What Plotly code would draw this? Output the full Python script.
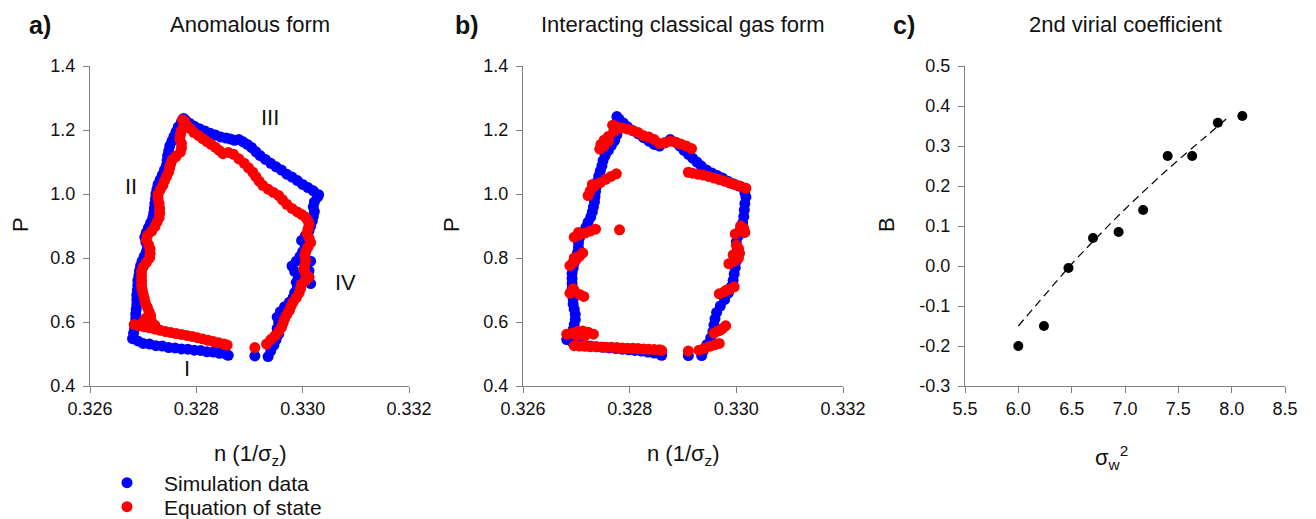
import plotly.graph_objects as go

# ---------------- panel a: anomalous form ----------------
# simulation data, traced around the cycle (I -> IV -> III -> II)
a_sim_n_I = [0.32680, 0.32690, 0.32700, 0.32712, 0.32724, 0.32736, 0.32748, 0.32760, 0.32772,
             0.32784, 0.32796, 0.32808, 0.32820, 0.32832, 0.32844, 0.32856, 0.32860]
a_sim_p_I = [0.548, 0.541, 0.533, 0.531, 0.526, 0.525, 0.520, 0.519, 0.516,
             0.515, 0.512, 0.511, 0.507, 0.506, 0.502, 0.500, 0.496]
a_sim_n_IV = [0.32910, 0.32935, 0.32940, 0.32946, 0.32950, 0.32955, 0.32952, 0.32955, 0.32952, 0.32958,
              0.32966, 0.32975, 0.32982, 0.32985, 0.32990, 0.32988, 0.32992, 0.32985, 0.32980, 0.32988,
              0.32995, 0.33000, 0.33005, 0.32998, 0.33005, 0.33012, 0.33015, 0.33018, 0.33020, 0.33022,
              0.33020, 0.33022, 0.33028, 0.33030, 0.33015, 0.33012, 0.33015]
a_sim_p_IV = [0.494, 0.492, 0.510, 0.528, 0.545, 0.562, 0.580, 0.598, 0.615, 0.632,
              0.648, 0.662, 0.676, 0.692, 0.708, 0.724, 0.740, 0.758, 0.775, 0.790,
              0.805, 0.820, 0.838, 0.855, 0.870, 0.885, 0.900, 0.915, 0.930, 0.945,
              0.960, 0.975, 0.990, 0.998, 0.790, 0.760, 0.720]
a_sim_n_III = [0.33020, 0.33010, 0.33000, 0.32990, 0.32980, 0.32970, 0.32960, 0.32950, 0.32940, 0.32930,
               0.32920, 0.32912, 0.32904, 0.32896, 0.32888, 0.32880, 0.32872, 0.32864, 0.32856, 0.32846,
               0.32836, 0.32826, 0.32816, 0.32806, 0.32796, 0.32788, 0.32780, 0.32776]
a_sim_p_III = [1.010, 1.020, 1.030, 1.042, 1.053, 1.062, 1.075, 1.085, 1.096, 1.108,
               1.120, 1.132, 1.145, 1.155, 1.163, 1.170, 1.168, 1.172, 1.175, 1.178,
               1.184, 1.190, 1.197, 1.204, 1.212, 1.220, 1.230, 1.236]
a_sim_n_II = [0.32772, 0.32766, 0.32762, 0.32758, 0.32754, 0.32750, 0.32748, 0.32746, 0.32745, 0.32744,
              0.32740, 0.32736, 0.32732, 0.32728, 0.32726, 0.32724, 0.32723, 0.32722, 0.32721, 0.32720,
              0.32718, 0.32714, 0.32710, 0.32706, 0.32703, 0.32705, 0.32708, 0.32706, 0.32702, 0.32698,
              0.32695, 0.32693, 0.32692, 0.32690, 0.32690, 0.32689, 0.32688, 0.32688, 0.32688, 0.32687,
              0.32686, 0.32686, 0.32685, 0.32684, 0.32682]
a_sim_p_II = [1.225, 1.210, 1.195, 1.180, 1.165, 1.150, 1.135, 1.120, 1.105, 1.090,
              1.075, 1.060, 1.045, 1.030, 1.015, 1.000, 0.985, 0.970, 0.955, 0.940,
              0.925, 0.910, 0.895, 0.880, 0.865, 0.850, 0.835, 0.820, 0.805, 0.790,
              0.775, 0.760, 0.745, 0.730, 0.715, 0.700, 0.685, 0.670, 0.655, 0.640,
              0.625, 0.610, 0.595, 0.580, 0.565]

# equation of state
a_eos_n_I = [0.32683, 0.32692, 0.32702, 0.32712, 0.32722, 0.32732, 0.32742, 0.32752, 0.32762, 0.32772,
             0.32782, 0.32792, 0.32802, 0.32812, 0.32822, 0.32832, 0.32842, 0.32852, 0.32858,
             0.32700, 0.32712, 0.32722, 0.32705, 0.32715, 0.32910]
a_eos_p_I = [0.592, 0.588, 0.585, 0.582, 0.578, 0.574, 0.570, 0.567, 0.564, 0.561,
             0.558, 0.555, 0.551, 0.547, 0.543, 0.539, 0.535, 0.531, 0.528,
             0.600, 0.595, 0.590, 0.612, 0.605, 0.520]
a_eos_n_IV = [0.32932, 0.32940, 0.32948, 0.32955, 0.32960, 0.32963, 0.32966, 0.32970, 0.32975, 0.32978,
              0.32982, 0.32988, 0.32993, 0.32996, 0.32998, 0.33005, 0.33012, 0.33005, 0.33002, 0.33004,
              0.33006, 0.33004, 0.33006, 0.33010, 0.33015, 0.33012, 0.33008, 0.33010, 0.33012, 0.33010]
a_eos_p_IV = [0.531, 0.545, 0.557, 0.570, 0.583, 0.596, 0.610, 0.623, 0.636, 0.649,
              0.662, 0.676, 0.690, 0.704, 0.718, 0.730, 0.740, 0.752, 0.765, 0.778,
              0.792, 0.806, 0.820, 0.834, 0.848, 0.862, 0.876, 0.890, 0.904, 0.916]
a_eos_n_III = [0.33005, 0.32998, 0.32990, 0.32980, 0.32970, 0.32962, 0.32955, 0.32945, 0.32935, 0.32925,
               0.32918, 0.32912, 0.32906, 0.32898, 0.32890, 0.32880, 0.32870, 0.32860, 0.32850, 0.32843,
               0.32836, 0.32828, 0.32820, 0.32812, 0.32804, 0.32795, 0.32788, 0.32782, 0.32778, 0.32774]
a_eos_p_III = [0.928, 0.936, 0.944, 0.955, 0.968, 0.982, 0.995, 1.005, 1.015, 1.027,
               1.040, 1.054, 1.068, 1.082, 1.096, 1.110, 1.124, 1.130, 1.126, 1.136,
               1.146, 1.155, 1.164, 1.173, 1.183, 1.193, 1.205, 1.215, 1.226, 1.232]
a_eos_n_II = [0.32776, 0.32772, 0.32770, 0.32769, 0.32772, 0.32772, 0.32770, 0.32762, 0.32755, 0.32752,
              0.32750, 0.32748, 0.32744, 0.32740, 0.32737, 0.32732, 0.32728, 0.32728, 0.32730, 0.32731,
              0.32731, 0.32730, 0.32726, 0.32722, 0.32716, 0.32708, 0.32706, 0.32710, 0.32713, 0.32713,
              0.32712, 0.32706, 0.32700, 0.32697, 0.32697, 0.32697, 0.32697, 0.32698, 0.32700, 0.32702,
              0.32704, 0.32708, 0.32711, 0.32714, 0.32706]
a_eos_p_II = [1.212, 1.198, 1.185, 1.172, 1.158, 1.144, 1.131, 1.118, 1.108, 1.095,
              1.082, 1.069, 1.055, 1.041, 1.027, 1.013, 0.999, 0.985, 0.970, 0.955,
              0.940, 0.926, 0.912, 0.898, 0.884, 0.870, 0.856, 0.842, 0.828, 0.814,
              0.800, 0.786, 0.772, 0.758, 0.744, 0.730, 0.716, 0.702, 0.688, 0.674,
              0.660, 0.646, 0.632, 0.620, 0.608]

# ---------------- panel b: interacting classical gas form ----------------
b_sim_n_I = [0.32682, 0.32692, 0.32702, 0.32714, 0.32726, 0.32738, 0.32750, 0.32762, 0.32774,
             0.32786, 0.32798, 0.32810, 0.32822, 0.32834, 0.32846, 0.32858, 0.32860, 0.32910]
b_sim_p_I = [0.545, 0.538, 0.532, 0.528, 0.525, 0.523, 0.521, 0.519, 0.517,
             0.515, 0.513, 0.511, 0.509, 0.506, 0.503, 0.499, 0.496, 0.495]
b_sim_n_IV = [0.32935, 0.32938, 0.32945, 0.32952, 0.32956, 0.32958, 0.32960, 0.32963, 0.32970, 0.32978,
              0.32985, 0.32990, 0.32994, 0.32996, 0.32998, 0.33000, 0.33001, 0.33002, 0.33000, 0.33004,
              0.33008, 0.33012, 0.33014, 0.33015, 0.33016, 0.33018, 0.33016]
b_sim_p_IV = [0.495, 0.510, 0.530, 0.550, 0.570, 0.590, 0.610, 0.630, 0.650, 0.670,
              0.690, 0.710, 0.730, 0.750, 0.770, 0.790, 0.810, 0.830, 0.850, 0.870,
              0.890, 0.910, 0.930, 0.950, 0.970, 0.990, 1.005]
b_sim_n_III = [0.33016, 0.33005, 0.32994, 0.32984, 0.32974, 0.32964, 0.32954, 0.32944, 0.32934, 0.32926,
               0.32918, 0.32910, 0.32902, 0.32894, 0.32886, 0.32876, 0.32866, 0.32856, 0.32846, 0.32836,
               0.32826, 0.32816, 0.32806, 0.32796, 0.32788, 0.32780, 0.32776]
b_sim_p_III = [1.018, 1.025, 1.032, 1.040, 1.050, 1.058, 1.066, 1.075, 1.088, 1.100,
               1.112, 1.124, 1.136, 1.150, 1.162, 1.170, 1.160, 1.150, 1.155, 1.165,
               1.176, 1.188, 1.198, 1.210, 1.222, 1.234, 1.242]
b_sim_n_II = [0.32779, 0.32778, 0.32776, 0.32772, 0.32766, 0.32760, 0.32754, 0.32750, 0.32748, 0.32745,
              0.32742, 0.32740, 0.32738, 0.32736, 0.32735, 0.32734, 0.32732, 0.32730, 0.32727, 0.32722,
              0.32718, 0.32714, 0.32706, 0.32704, 0.32704, 0.32702, 0.32700, 0.32696, 0.32694, 0.32692,
              0.32692, 0.32692, 0.32692, 0.32693, 0.32694, 0.32694, 0.32696, 0.32698, 0.32698, 0.32696,
              0.32694, 0.32690, 0.32686]
b_sim_p_II = [1.225, 1.205, 1.185, 1.168, 1.152, 1.136, 1.120, 1.104, 1.088, 1.072,
              1.056, 1.040, 1.024, 1.008, 0.992, 0.976, 0.960, 0.944, 0.928, 0.912,
              0.896, 0.880, 0.864, 0.848, 0.832, 0.816, 0.800, 0.784, 0.768, 0.752,
              0.736, 0.720, 0.704, 0.688, 0.672, 0.656, 0.640, 0.624, 0.608, 0.592,
              0.576, 0.562, 0.552]

b_eos_n_I = [0.32696, 0.32706, 0.32716, 0.32726, 0.32736, 0.32746, 0.32756, 0.32766, 0.32776,
             0.32786, 0.32796, 0.32806, 0.32816, 0.32826, 0.32836, 0.32846, 0.32856, 0.32860,
             0.32682, 0.32692, 0.32702, 0.32712, 0.32722, 0.32732, 0.32700, 0.32716, 0.32910]
b_eos_p_I = [0.526, 0.525, 0.524, 0.523, 0.523, 0.522, 0.521, 0.521, 0.520,
             0.519, 0.518, 0.518, 0.517, 0.516, 0.515, 0.514, 0.513, 0.511,
             0.562, 0.566, 0.570, 0.572, 0.568, 0.562, 0.558, 0.556, 0.509]
b_eos_n_IV = [0.32930, 0.32940, 0.32950, 0.32960, 0.32968,
              0.32958, 0.32966, 0.32974, 0.32980, 0.32970,
              0.32968, 0.32978, 0.32988, 0.32996, 0.32982,
              0.32986, 0.32996, 0.33004, 0.33006, 0.33004, 0.33000, 0.32994,
              0.32998, 0.33008, 0.33014, 0.33008, 0.33016]
b_eos_p_IV = [0.512, 0.518, 0.524, 0.529, 0.533,
              0.565, 0.572, 0.580, 0.588, 0.575,
              0.688, 0.695, 0.702, 0.710, 0.700,
              0.782, 0.790, 0.800, 0.815, 0.830, 0.840, 0.810,
              0.875, 0.884, 0.892, 0.900, 0.880]
b_eos_n_III = [0.33018, 0.33008, 0.32998, 0.32988, 0.32978, 0.32968, 0.32958, 0.32948, 0.32938, 0.32928,
               0.32918, 0.32910,
               0.32916, 0.32906, 0.32896, 0.32886, 0.32876, 0.32866, 0.32856, 0.32846, 0.32836, 0.32826,
               0.32816, 0.32806, 0.32796, 0.32786, 0.32776, 0.32768]
b_eos_p_III = [1.018, 1.024, 1.029, 1.034, 1.040, 1.045, 1.050, 1.055, 1.059, 1.062,
               1.065, 1.068,
               1.142, 1.150, 1.156, 1.162, 1.165, 1.160, 1.158, 1.170, 1.178, 1.182,
               1.192, 1.198, 1.203, 1.206, 1.210, 1.215]
b_eos_n_II = [0.32770, 0.32760, 0.32752, 0.32746, 0.32744, 0.32752, 0.32760,
              0.32722, 0.32726, 0.32734, 0.32745, 0.32755, 0.32765, 0.32775, 0.32730,
              0.32781,
              0.32696, 0.32706, 0.32716, 0.32726, 0.32736, 0.32704,
              0.32688, 0.32694, 0.32700, 0.32706, 0.32712, 0.32696,
              0.32688, 0.32696, 0.32706, 0.32714, 0.32694]
b_eos_p_II = [1.195, 1.180, 1.168, 1.155, 1.140, 1.150, 1.165,
              0.995, 1.010, 1.024, 1.036, 1.046, 1.055, 1.063, 1.030,
              0.888,
              0.865, 0.872, 0.878, 0.884, 0.890, 0.880,
              0.776, 0.786, 0.796, 0.806, 0.816, 0.800,
              0.690, 0.698, 0.686, 0.680, 0.704]

# ---------------- panel c: 2nd virial coefficient ----------------
sigma_w2 = [6.00, 6.24, 6.47, 6.70, 6.94, 7.17, 7.40, 7.63, 7.87, 8.10]
virial_B = [-0.200, -0.150, -0.005, 0.070, 0.085, 0.140, 0.275, 0.275, 0.358, 0.375]
fit_sigma_w2 = [6.00, 6.25, 6.50, 6.75, 7.00, 7.25, 7.50, 7.75, 7.96]
fit_B = [-0.150, -0.072, 0.005, 0.075, 0.142, 0.205, 0.265, 0.322, 0.370]

# axis ticks
n_ticks = [0.326, 0.328, 0.330, 0.332]
n_tick_labels = ["0.326", "0.328", "0.330", "0.332"]
p_ticks = [0.4, 0.6, 0.8, 1.0, 1.2, 1.4]
p_tick_labels = ["0.4", "0.6", "0.8", "1.0", "1.2", "1.4"]
s_ticks = [5.5, 6.0, 6.5, 7.0, 7.5, 8.0, 8.5]
s_tick_labels = ["5.5", "6.0", "6.5", "7.0", "7.5", "8.0", "8.5"]
b_ticks = [-0.3, -0.2, -0.1, 0.0, 0.1, 0.2, 0.3, 0.4, 0.5]
b_tick_labels = ["-0.3", "-0.2", "-0.1", "0.0", "0.1", "0.2", "0.3", "0.4", "0.5"]

BLUE = "#0000ff"
RED = "#ff0000"
FONT = "Arial, Liberation Sans, sans-serif"
W, H = 1316, 519
DOT = 11


def px_x(v):
    return v / W


def px_y(v):
    return 1 - v / H


def dots(x, y, color, xa, ya, name, size=DOT, legend="legend", show=False):
    return go.Scatter(x=x, y=y, mode="markers", name=name, xaxis=xa, yaxis=ya,
                      marker=dict(color=color, size=size, line=dict(width=0)),
                      showlegend=show, legend=legend, hoverinfo="skip", cliponaxis=False)


fig = go.Figure()

a_sim_n = a_sim_n_I + a_sim_n_IV + a_sim_n_III + a_sim_n_II
a_sim_p = a_sim_p_I + a_sim_p_IV + a_sim_p_III + a_sim_p_II
a_eos_n = a_eos_n_I + a_eos_n_IV + a_eos_n_III + a_eos_n_II
a_eos_p = a_eos_p_I + a_eos_p_IV + a_eos_p_III + a_eos_p_II
b_sim_n = b_sim_n_I + b_sim_n_IV + b_sim_n_III + b_sim_n_II
b_sim_p = b_sim_p_I + b_sim_p_IV + b_sim_p_III + b_sim_p_II
b_eos_n = b_eos_n_I + b_eos_n_IV + b_eos_n_III + b_eos_n_II
b_eos_p = b_eos_p_I + b_eos_p_IV + b_eos_p_III + b_eos_p_II

fig.add_trace(dots(a_sim_n, a_sim_p, BLUE, "x", "y", "Simulation data", legend="legend", show=True))
fig.add_trace(dots(a_eos_n, a_eos_p, RED, "x", "y", "Equation of state", legend="legend2", show=True))
fig.add_trace(dots(b_sim_n, b_sim_p, BLUE, "x2", "y2", "Simulation data"))
fig.add_trace(dots(b_eos_n, b_eos_p, RED, "x2", "y2", "Equation of state"))

fig.add_trace(go.Scatter(x=fit_sigma_w2, y=fit_B, mode="lines", xaxis="x3", yaxis="y3",
                         line=dict(color="#000000", width=1.2, dash="8px,5px", shape="spline"),
                         showlegend=False, hoverinfo="skip"))
fig.add_trace(dots(sigma_w2, virial_B, "#000000", "x3", "y3", "B", size=10))

axis_common = dict(showline=True, linecolor="#808080", linewidth=1, ticks="outside", ticklen=6,
                   tickwidth=1, tickcolor="#808080", showgrid=False, zeroline=False,
                   tickfont=dict(family=FONT, size=18, color="#111111"), fixedrange=True,
                   automargin=False)
ydom = [px_y(386), px_y(66)]

fig.update_layout(
    width=W, height=H, autosize=False,
    margin=dict(l=0, r=0, t=0, b=0, pad=0, autoexpand=False),
    paper_bgcolor="white", plot_bgcolor="white",
    font=dict(family=FONT, color="#111111"),
    xaxis=dict(axis_common, domain=[px_x(90), px_x(409)], anchor="y", range=[0.326, 0.332],
               tickmode="array", tickvals=n_ticks, ticktext=n_tick_labels),
    yaxis=dict(axis_common, domain=ydom, anchor="x", range=[0.4, 1.4],
               tickmode="array", tickvals=p_ticks, ticktext=p_tick_labels, ticklabelstandoff=4),
    xaxis2=dict(axis_common, domain=[px_x(523), px_x(843)], anchor="y2", range=[0.326, 0.332],
                tickmode="array", tickvals=n_ticks, ticktext=n_tick_labels),
    yaxis2=dict(axis_common, domain=ydom, anchor="x2", range=[0.4, 1.4],
                tickmode="array", tickvals=p_ticks, ticktext=p_tick_labels, ticklabelstandoff=4),
    xaxis3=dict(axis_common, domain=[px_x(965), px_x(1285)], anchor="y3", range=[5.5, 8.5],
                tickmode="array", tickvals=s_ticks, ticktext=s_tick_labels),
    yaxis3=dict(axis_common, domain=ydom, anchor="x3", range=[-0.3, 0.5],
                tickmode="array", tickvals=b_ticks, ticktext=b_tick_labels, ticklabelstandoff=4),
    legend=dict(x=px_x(90), y=px_y(483), xanchor="left", yanchor="middle",
                font=dict(family=FONT, size=21, color="#111111"), itemwidth=64,
                bgcolor="rgba(0,0,0,0)", borderwidth=0),
    legend2=dict(x=px_x(90), y=px_y(507), xanchor="left", yanchor="middle",
                 font=dict(family=FONT, size=21, color="#111111"), itemwidth=64,
                 bgcolor="rgba(0,0,0,0)", borderwidth=0),
)

notes = [
    ("<b>a)</b>", 40, 25, 25, 0),
    ("Anomalous form", 249.5, 25, 22, 0),
    ("<b>b)</b>", 467, 25, 25, 0),
    ("Interacting classical gas form", 683, 25, 22, 0),
    ("<b>c)</b>", 904, 25, 25, 0),
    ("2nd virial coefficient", 1125, 25, 22, 0),
    ("P", 21, 225, 22, -90),
    ("P", 452, 225, 22, -90),
    ("B", 887, 225, 22, -90),
    ("n (1/σ<sub>z</sub>)", 250, 455, 22, 0),
    ("n (1/σ<sub>z</sub>)", 683, 455, 22, 0),
    ("σ<sub>w</sub><sup>2</sup>", 1111, 457, 22, 0),
    ("III", 270, 117, 22, 0),
    ("II", 131, 187, 22, 0),
    ("IV", 345, 282, 22, 0),
    ("I", 187, 368, 22, 0),
]
for text, x, y, size, angle in notes:
    fig.add_annotation(text=text, x=px_x(x), y=px_y(y), xref="paper", yref="paper",
                       xanchor="center", yanchor="middle", showarrow=False, textangle=angle,
                       font=dict(family=FONT, size=size, color="#111111"))

fig.write_html("out.html")
